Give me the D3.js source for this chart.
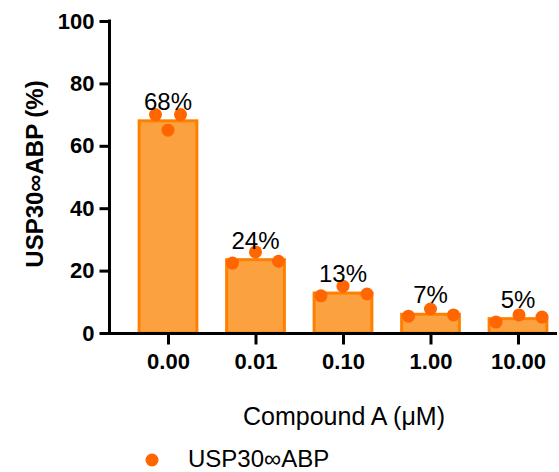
<!DOCTYPE html>
<html>
<head>
<meta charset="utf-8">
<script src="https://cdn.jsdelivr.net/npm/d3@7"></script>
<style>
  html, body { margin: 0; padding: 0; background: #fff; }
  svg { display: block; font-family: "Liberation Sans", Arial, sans-serif; }
</style>
</head>
<body>
<svg id="chart" width="559" height="472"></svg>
<script>
// ---- data ----
const categories = ["0.00", "0.01", "0.10", "1.00", "10.00"];
const meanValues = [68, 23.5, 12.8, 6.0, 4.6];
const meanLabels = ["68%", "24%", "13%", "7%", "5%"];
const replicateValues = [
  [70, 65, 70],
  [22.4, 26, 23],
  [11.9, 15, 12.5],
  [5.4, 7.7, 5.8],
  [3.5, 5.8, 5.1]
];
const yTicks = [0, 20, 40, 60, 80, 100];
const seriesName = "USP30\u221EABP";
const xTitle = "Compound A (\u03BCM)";
const yTitle = "USP30\u221EABP (%)";

// ---- layout / style ----
const jitter = [[-12.5, 0, 12.5], [-23, 0, 23], [-22, 0, 24], [-22, 0, 23], [-22, 1, 24]];
const barStroke = "#FF8000", barFill = "#FBA140", dotColor = "#FF6600";

const svg = d3.select("#chart");
const y = d3.scaleLinear().domain([0, 100]).range([333, 21]);
const x = d3.scalePoint().domain(categories).range([168, 518]);
const barW = x.step() * 0.66;

// bars
svg.append("g").selectAll("rect").data(categories).join("rect")
  .attr("x", d => x(d) - barW / 2)
  .attr("y", (d, i) => y(meanValues[i]))
  .attr("width", barW)
  .attr("height", (d, i) => y(0) - y(meanValues[i]))
  .attr("fill", barFill)
  .attr("stroke", barStroke)
  .attr("stroke-width", 3);

// axes
const yAxis = svg.append("g").attr("transform", "translate(109.5,0)")
  .call(d3.axisLeft(y).tickValues(yTicks).tickSize(10).tickPadding(5).tickFormat(d3.format("d")));
const xAxis = svg.append("g").attr("transform", "translate(0,333.5)")
  .call(d3.axisBottom(x).tickSize(11).tickPadding(9));
xAxis.select(".domain").attr("d", "M108,0H557");
yAxis.select(".domain").attr("d", "M0,19.5V335");
[yAxis, xAxis].forEach(g => {
  g.selectAll(".domain").attr("stroke", "#000").attr("stroke-width", 3);
  g.selectAll(".tick line").attr("stroke", "#000").attr("stroke-width", 3);
  g.selectAll(".tick text").attr("fill", "#000").style("font-family", "Liberation Sans, Arial, sans-serif")
    .style("font-weight", "bold").style("font-size", "22px");
});

// points
const pts = [];
replicateValues.forEach((arr, i) => arr.forEach((v, j) => pts.push({c: categories[i], v, dx: jitter[i][j]})));
svg.append("g").selectAll("circle").data(pts).join("circle")
  .attr("cx", d => x(d.c) + d.dx)
  .attr("cy", d => y(d.v))
  .attr("r", 6.5)
  .attr("fill", dotColor);

// value labels
svg.append("g").selectAll("text").data(categories).join("text")
  .attr("x", d => x(d))
  .attr("y", (d, i) => y(meanValues[i]) - 11)
  .attr("text-anchor", "middle")
  .style("font-size", "24px")
  .attr("fill", "#000")
  .text((d, i) => meanLabels[i]);

// titles
svg.append("text").attr("x", 344).attr("y", 425).attr("text-anchor", "middle")
  .style("font-size", "25px").text(xTitle);
svg.append("text").attr("transform", "translate(43,174) rotate(-90)").attr("text-anchor", "middle")
  .style("font-size", "24px").style("font-weight", "bold").text(yTitle);

// legend
svg.append("circle").attr("cx", 152).attr("cy", 460).attr("r", 6.5).attr("fill", dotColor);
svg.append("text").attr("x", 188).attr("y", 467).style("font-size", "24px").text(seriesName);
</script>
</body>
</html>
